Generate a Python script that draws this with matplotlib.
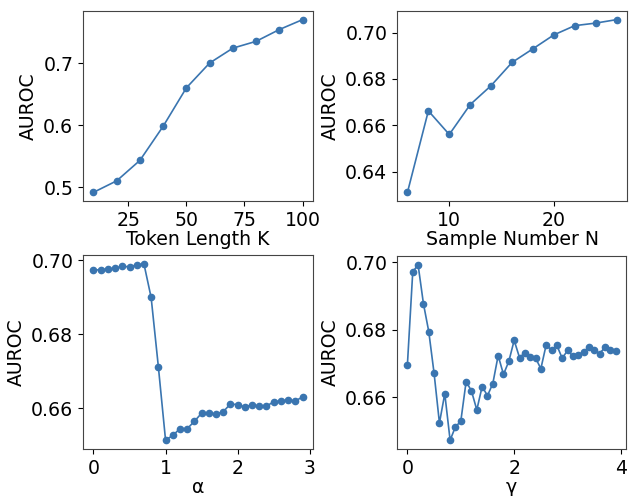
import numpy as np
import matplotlib
matplotlib.use('Agg')
import matplotlib.pyplot as plt

# values
token_k = [10, 20, 30, 40, 50, 60, 70, 80, 90, 100]
token_auroc = [0.4914, 0.510, 0.543, 0.598, 0.660, 0.700, 0.724, 0.735, 0.754, 0.770]

sample_n = [6, 8, 10, 12, 14, 16, 18, 20, 22, 24, 26]
sample_auroc = [0.631, 0.6662, 0.656, 0.6689, 0.6771, 0.6871, 0.693, 0.699,
                0.703, 0.7041, 0.7056]

alpha = [round(0.1 * i, 1) for i in range(30)]
alpha_auroc = [0.6974, 0.6975, 0.6977, 0.6979, 0.6984, 0.6983, 0.6988, 0.6991,
               0.6900, 0.6713, 0.6514, 0.6527, 0.6545, 0.6545, 0.6565, 0.6587,
               0.6587, 0.6585, 0.6591, 0.6612, 0.6610, 0.6604, 0.6610, 0.6606,
               0.6606, 0.6618, 0.6620, 0.6623, 0.6620, 0.6631]

gamma = [round(0.1 * i, 1) for i in range(40)]
gamma_auroc = [0.6696, 0.6971, 0.6992, 0.6877, 0.6794, 0.6670, 0.6523, 0.6610,
               0.6472, 0.6512, 0.6528, 0.6646, 0.6618, 0.6562, 0.6631, 0.6604,
               0.6640, 0.6723, 0.6667, 0.6706, 0.6768, 0.6717, 0.6731, 0.6718,
               0.6716, 0.6684, 0.6755, 0.6738, 0.6753, 0.6715, 0.6738, 0.6721,
               0.6726, 0.6733, 0.6749, 0.6739, 0.6729, 0.6747, 0.6738, 0.6736]

COLOR = '#3a75b0'
FS = 13.6

plt.rcParams['font.family'] = ['DejaVu Sans']
plt.rcParams['font.size'] = FS

fig = plt.figure(figsize=(6.34, 4.96), dpi=100)


def px_axes(left, top, right, bottom):
    """Add axes given pixel edges of the 634x496 canvas."""
    W, H = 634, 496
    return fig.add_axes([left / W, (H - bottom) / H,
                         (right - left) / W, (bottom - top) / H])


panels = [
    (px_axes(83, 11, 313, 201), token_k, token_auroc, 'Token Length K',
     [25, 50, 75, 100], [0.5, 0.6, 0.7], '%.1f'),
    (px_axes(397, 11, 627, 201), sample_n, sample_auroc, 'Sample Number N',
     [10, 20], [0.64, 0.66, 0.68, 0.70], '%.2f'),
    (px_axes(83, 255, 313, 449), alpha, alpha_auroc, 'α',
     [0, 1, 2, 3], [0.66, 0.68, 0.70], '%.2f'),
    (px_axes(397, 256, 626, 449), gamma, gamma_auroc, 'γ',
     [0, 2, 4], [0.66, 0.68, 0.70], '%.2f'),
]

for ax, xs, ys, xlabel, xt, yt, fmt in panels:
    ax.plot(xs, ys, '-o', color=COLOR, lw=1.2, ms=4.5)
    ax.set_xlabel(xlabel, fontsize=FS, labelpad=0)
    ax.set_ylabel('AUROC', fontsize=FS, labelpad=4)
    ax.set_xticks(xt)
    ax.set_yticks(yt)
    ax.set_yticklabels([fmt % v for v in yt])
    ax.tick_params(labelsize=FS)
    for sp in ax.spines.values():
        sp.set_color('#444444')

fig.savefig('out.png', dpi=100)
